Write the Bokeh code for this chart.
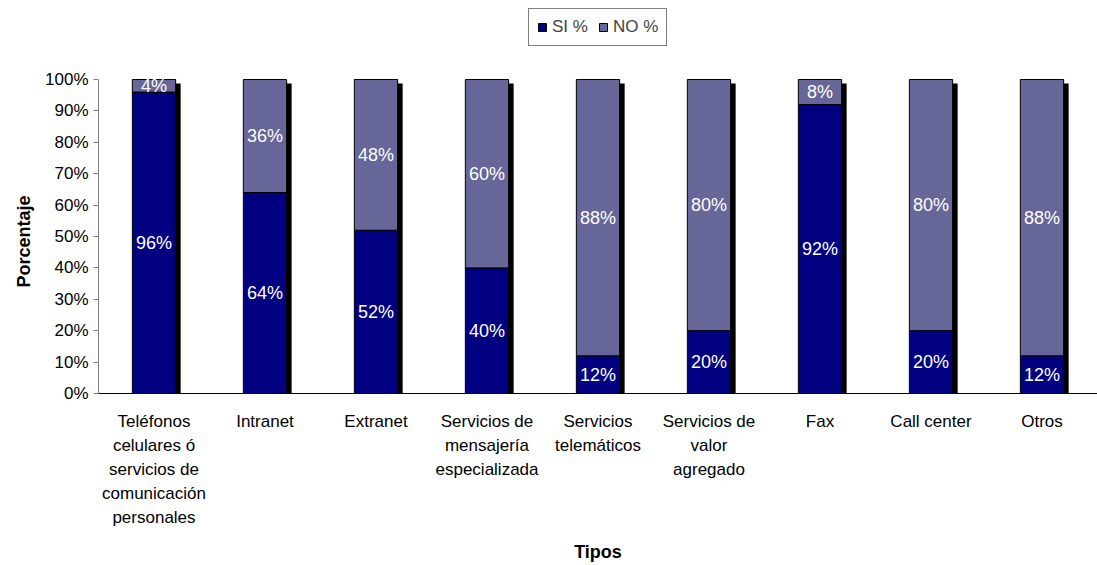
from bokeh.plotting import figure
from bokeh.models import Legend, LegendItem, FixedTicker, ColumnDataSource, Title
from bokeh.core.properties import value
from bokeh.transform import dodge
from bokeh.embed import file_html
from bokeh.resources import INLINE

tipos = [
    "Teléfonos\ncelulares ó\nservicios de\ncomunicación\npersonales",
    "Intranet",
    "Extranet",
    "Servicios de\nmensajería\nespecializada",
    "Servicios\ntelemáticos",
    "Servicios de\nvalor\nagregado",
    "Fax",
    "Call center",
    "Otros",
]
si_pct = [96, 64, 52, 40, 12, 20, 92, 20, 12]
no_pct = [4, 36, 48, 60, 88, 80, 8, 80, 88]

SI_COLOR = "#000080"
NO_COLOR = "#666699"
FONT = "Liberation Sans"

totals = [s + n for s, n in zip(si_pct, no_pct)]
src = ColumnDataSource(dict(
    x=tipos,
    si=si_pct,
    no_top=totals,
    shadow_top=[t - 1.3 for t in totals],
    si_mid=[s / 2 for s in si_pct],
    no_mid=[s + n / 2 for s, n in zip(si_pct, no_pct)],
    si_txt=[f"{v}%" for v in si_pct],
    no_txt=[f"{v}%" for v in no_pct],
))

# frame runs to the top of the canvas so the legend can sit above the bars;
# the y axis itself is bounded to 0-100 %
p = figure(
    x_range=tipos, y_range=(0, 125.16),
    width=1097, height=565,
    output_backend="svg", toolbar_location=None,
    min_border_left=98, min_border_right=0,
    min_border_top=0, min_border_bottom=172,
)
p.outline_line_color = None
p.xgrid.grid_line_color = None
p.ygrid.grid_line_color = None
p.x_range.range_padding = 0

bar_w = 0.39
# drop shadow behind each stacked column
p.vbar(x=dodge("x", 0.045, range=p.x_range), top="shadow_top", bottom=0,
       width=bar_w, source=src, fill_color="black", line_color=None)
si_r = p.vbar(x="x", top="si", bottom=0, width=bar_w, source=src,
              fill_color=SI_COLOR, line_color="black", line_width=1)
no_r = p.vbar(x="x", top="no_top", bottom="si", width=bar_w, source=src,
              fill_color=NO_COLOR, line_color="black", line_width=1)

for ycol, tcol in (("si_mid", "si_txt"), ("no_mid", "no_txt")):
    p.text(x="x", y=ycol, text=tcol, source=src, text_color="white",
           text_font=value(FONT), text_font_size="18px",
           text_align="center", text_baseline="middle")

p.yaxis.bounds = (0, 100)
p.yaxis.ticker = FixedTicker(ticks=list(range(0, 101, 10)))
p.yaxis.major_label_overrides = {v: f"{v}%" for v in range(0, 101, 10)}
p.yaxis.major_label_text_font = FONT
p.yaxis.major_label_text_font_size = "17px"
p.yaxis.major_label_text_color = "black"
p.yaxis.major_label_standoff = 5
p.yaxis.major_tick_in = 0
p.yaxis.major_tick_out = 5
p.yaxis.minor_tick_line_color = None
p.yaxis.axis_line_color = "#808080"
p.yaxis.major_tick_line_color = "#808080"

# y-axis title, placed along the 0-100 % span of the axis
ytitle = Title(text="Porcentaje", align="left", offset=106,
               text_font=FONT, text_font_size="18px", text_font_style="bold",
               text_color="black", standoff=18)
p.add_layout(ytitle, "left")

p.xaxis.major_tick_line_color = None
p.xaxis.axis_line_color = "black"
p.xaxis.major_label_text_font = FONT
p.xaxis.major_label_text_font_size = "17px"
p.xaxis.major_label_text_color = "black"
p.xaxis.major_label_text_line_height = 1.27
p.xaxis.major_label_standoff = 12
p.xaxis.axis_label = "Tipos"
p.xaxis.axis_label_text_font = FONT
p.xaxis.axis_label_text_font_size = "18px"
p.xaxis.axis_label_text_font_style = "bold"
p.xaxis.axis_label_text_color = "black"
p.xaxis.axis_label_standoff = 12

legend = Legend(
    items=[LegendItem(label="SI %", renderers=[si_r]),
           LegendItem(label="NO %", renderers=[no_r])],
    orientation="horizontal",
    location=(430, 347),
    label_text_font=FONT, label_text_font_size="17px",
    label_height=17,
    glyph_width=10, glyph_height=10,
    label_standoff=5, spacing=10, padding=8, margin=0,
    border_line_color="black", border_line_width=1,
    background_fill_color="white", background_fill_alpha=1,
)
p.add_layout(legend, "center")

open("out.html", "w").write(file_html(p, INLINE))
